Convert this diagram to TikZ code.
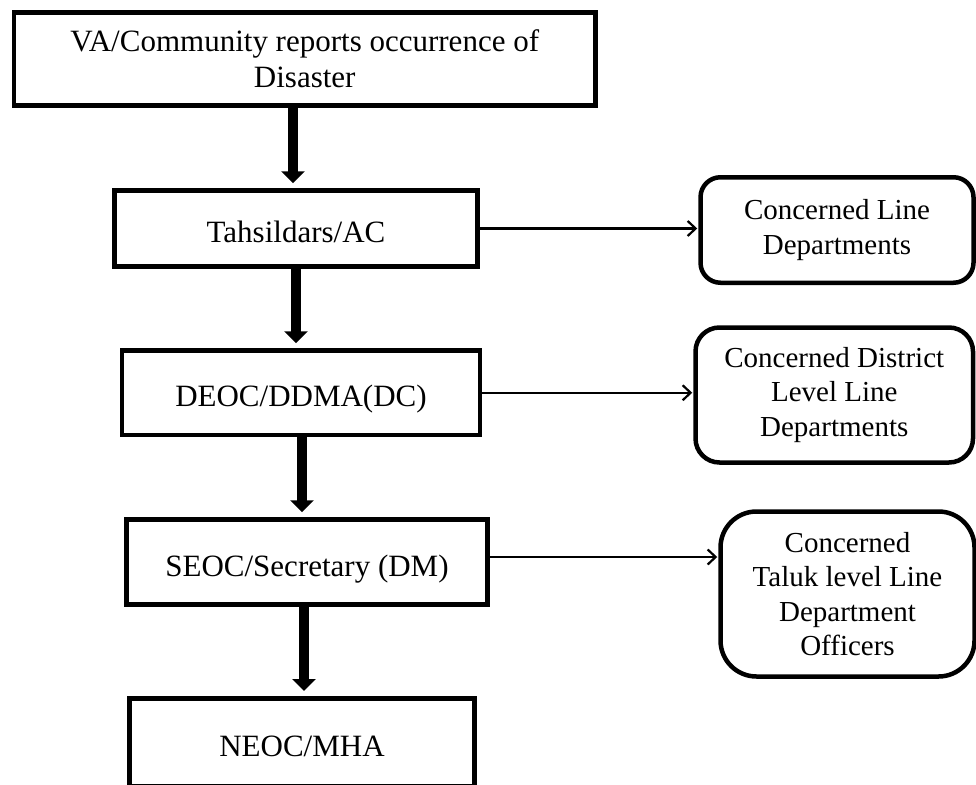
\documentclass[tikz,border=0pt]{standalone}
\usepackage{fontspec}
\setmainfont{Liberation Serif}
\usetikzlibrary{arrows.meta}
\begin{document}
\begin{tikzpicture}[x=1pt,y=-1pt,
  stage/.style={draw, line width=4.5pt, rectangle, inner sep=0pt, align=center,
    font=\fontsize{31}{36}\selectfont},
  oneline/.style={text height=28pt, text depth=0pt},
  dept/.style={draw, line width=4.5pt, rectangle, rounded corners=#1, inner sep=0pt,
    align=center, font=\fontsize{29}{34.5}\selectfont},
  flow/.style={line width=10pt, -{Triangle[length=12pt,width=23pt]}, shorten >=5pt},
  notify/.style={line width=2.2pt, -{Straight Barb[length=8pt,width=15pt]}, shorten >=1pt}
]
\useasboundingbox (0,0) rectangle (976,784);
\clip (0,0) rectangle (976,784);

% reporting chain
\node[stage, minimum width=581.5pt, minimum height=93pt] (b1) at (304.75,59)
  {VA/Community reports occurrence of\\Disaster};
\node[stage, oneline, minimum width=363pt, minimum height=76pt] (b2) at (296,228.5) {Tahsildars/AC};
\node[stage, oneline, minimum width=358pt, minimum height=84.5pt] (b3) at (301,392.75) {DEOC/DDMA(DC)};
\node[stage, oneline, minimum width=361pt, minimum height=85pt] (b4) at (307,562) {SEOC/Secretary (DM)};
\node[stage, oneline, minimum width=345pt, minimum height=87.5pt] (b5) at (302,742) {NEOC/MHA};

% departments informed at each level
\node[dept=20pt, minimum width=273pt, minimum height=105.5pt] (r1) at (837,230)
  {Concerned Line\\Departments};
\node[dept=24pt, minimum width=277.5pt, minimum height=135pt] (r2) at (834.25,395)
  {Concerned District\\Level Line\\Departments};
\node[dept=36pt, minimum width=254pt, minimum height=165pt] (r3) at (847.5,594)
  {Concerned\\Taluk level Line\\Department\\Officers};

% axes of the thick arrows
\coordinate (a1) at (293,0);
\coordinate (a2) at (296,0);
\coordinate (a3) at (302,0);
\coordinate (a4) at (304,0);
\coordinate (t3) at (0,557);

\draw[flow] (b1.south -| a1) -- (b2.north -| a1);
\draw[flow] (b2.south -| a2) -- (b3.north -| a2);
\draw[flow] (b3.south -| a3) -- (b4.north -| a3);
\draw[flow] (b4.south -| a4) -- (b5.north -| a4);

\draw[notify] (b2.east) -- (r1.west |- b2.east);
\draw[notify] (b3.east) -- (r2.west |- b3.east);
\draw[notify] (b4.east |- t3) -- (r3.west |- t3);
\end{tikzpicture}
\end{document}
